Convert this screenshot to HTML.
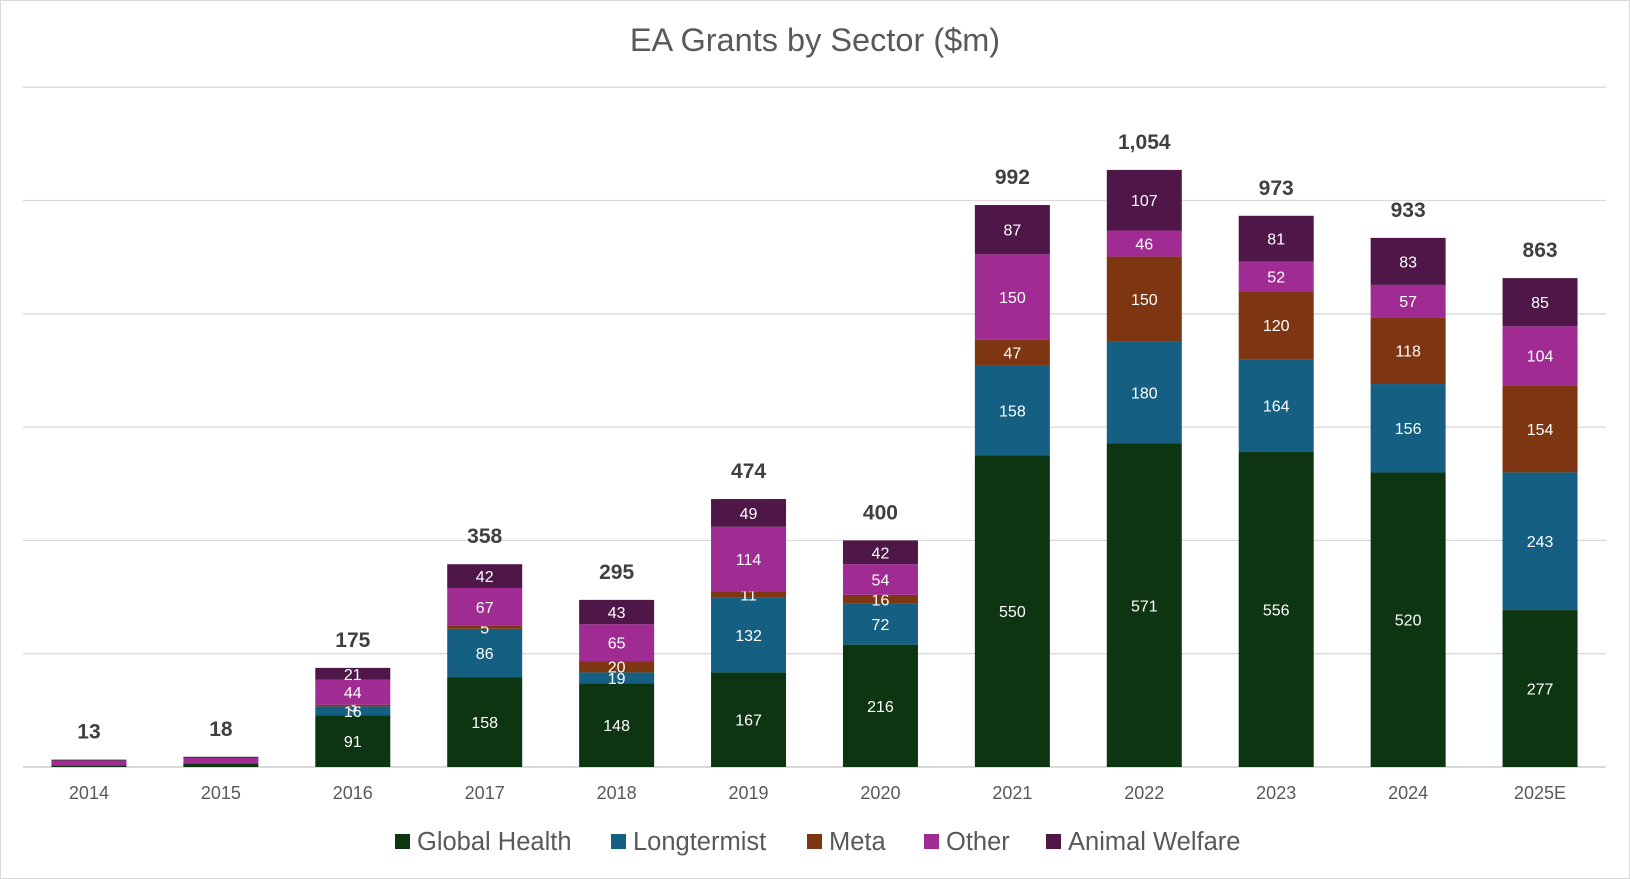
<!DOCTYPE html>
<html><head><meta charset="utf-8"><style>
html,body{margin:0;padding:0;background:#fff}
svg{display:block;font-family:"Liberation Sans",sans-serif}
</style></head><body>
<svg id="chart" width="1630" height="879" viewBox="0 0 1630 879">
<rect x="0.5" y="0.5" width="1629" height="878" fill="#fff" stroke="#d9d9d9"/>
<text x="815" y="51" text-anchor="middle" font-size="32.5" fill="#595959">EA Grants by Sector ($m)</text>
<g id="grid"></g><g id="bars"></g><g id="xlabels"></g>
<g id="legend"></g>
</svg>
<script>
const categories = ["2014","2015","2016","2017","2018","2019","2020","2021","2022","2023","2024","2025E"];
const globalHealth = [3,6,91,158,148,167,216,550,571,556,520,277];
const longtermist = [0,1,16,86,19,132,72,158,180,164,156,243];
const meta = [0,0,3,5,20,11,16,47,150,120,118,154];
const other = [8,9,44,67,65,114,54,150,46,52,57,104];
const animalWelfare = [2,2,21,42,43,49,42,87,107,81,83,85];
const totals = ["13","18","175","358","295","474","400","992","1,054","973","933","863"];
const yTicks = [0,200,400,600,800,1000,1200];
const seriesNames = ["Global Health","Longtermist","Meta","Other","Animal Welfare"];
const series = [globalHealth,longtermist,meta,other,animalWelfare];
const colors = ["#0e3512","#156082","#7d3512","#a02b93","#4e1748"];
const NS="http://www.w3.org/2000/svg";
const left=23,right=1606,base=767,pxPer=113.3/200;
const band=(right-left)/categories.length, bw=75;
const y=v=>base-v*pxPer;
const x=i=>left+band*(i+0.5);
function mk(tag,attrs,parent,txt){const e=document.createElementNS(NS,tag);for(const k in attrs)e.setAttribute(k,attrs[k]);if(txt!==undefined)e.textContent=txt;parent.appendChild(e);return e;}
const grid=document.getElementById('grid');
yTicks.forEach(t=>{
  const l=mk('line',{x1:left,x2:right,y1:y(t),y2:y(t),stroke:'#d9d9d9','stroke-width':t===0?2:1.3},grid);
  
  
});
const bars=document.getElementById('bars');
categories.forEach((c,i)=>{
  let acc=0;
  series.forEach((s,k)=>{
    const v=s[i];
    if(v>0){
      const r=mk('rect',{x:x(i)-bw/2,y:y(acc+v),width:bw,height:v*pxPer,fill:colors[k]},bars);
      
      
      if(totals[i].replace(',','')>50){
        const t=mk('text',{x:x(i),y:y(acc+v/2)+6,'text-anchor':'middle','font-size':16,fill:'#fff'},bars,String(v));
        
        
      }
    }
    acc+=v;
  });
  const tt=mk('text',{x:x(i),y:y(acc)-21,'text-anchor':'middle','font-size':21,'font-weight':'bold',fill:'#404040'},bars,totals[i]);
  
  
  const xl=mk('text',{x:x(i),y:799,'text-anchor':'middle','font-size':18,fill:'#595959'},document.getElementById('xlabels'),c);
  
  
});
const lg=document.getElementById('legend');
const lx=[395,611,807,924,1046];
seriesNames.forEach((n,k)=>{
  const r=mk('rect',{x:lx[k],y:834,width:15,height:15,fill:colors[k]},lg);
  
  
  const t=mk('text',{x:lx[k]+22,y:850,'font-size':25.5,fill:'#595959'},lg,n);
  
  
});
</script>
</body></html>
